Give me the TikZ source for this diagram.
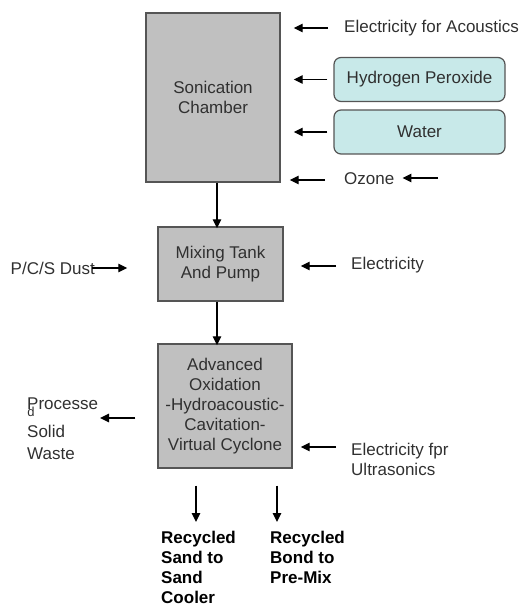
\documentclass[tikz,border=0pt]{standalone}
\usepackage{fontspec}
\setmainfont{Liberation Sans}
\usetikzlibrary{arrows.meta}
\definecolor{boxgray}{HTML}{C0C0C0}
\definecolor{edgegray}{HTML}{555555}
\definecolor{tealfill}{HTML}{C8E9E9}
\definecolor{txt}{HTML}{303030}
\begin{document}
\begin{tikzpicture}[x=1pt,y=-1pt,
  font=\fontsize{17}{20}\selectfont,
  every node/.style={text=txt},
  procbox/.style={draw=edgegray,line width=1.4pt,fill=boxgray,align=center,inner sep=0pt},
  feedbox/.style={draw=edgegray,line width=1.2pt,fill=tealfill,rounded corners=7pt,align=center,
     minimum width=171pt,minimum height=44pt,inner sep=0pt},
  lbl/.style={inner sep=0pt,anchor=west,align=left},
  arr/.style={draw=black,line width=1.3pt,-{Triangle[length=9pt,width=8.5pt]}}]
\useasboundingbox (0,0) rectangle (522,604);
% main boxes
\node[procbox,minimum width=134pt,minimum height=169pt] (sc) at (213,97.5) {Sonication\\Chamber};
\node[procbox,minimum width=125pt,minimum height=74pt] (mix) at (220.5,264) {Mixing Tank\\And Pump};
\node[procbox,minimum width=134pt,minimum height=124pt] (aox) at (225,406)
  {Advanced\\Oxidation\\-Hydroacoustic-\\Cavitation-\\Virtual Cyclone};
% feed boxes and labels
\node[lbl] (ea) at (344,28) {Electricity for Acoustics};
\node[feedbox] (hp) at (419.5,79.5) {Hydrogen Peroxide};
\node[feedbox] (wa) at (419.5,132) {Water};
\node[lbl] (oz) at (344,179) {Ozone};
\coordinate (ozs) at (438,178);
\node[lbl,anchor=east] (dust) at (95,268) {P/C/S Dust};
\node[lbl] (el) at (351,265) {Electricity};
\node[lbl,anchor=north west,font=\fontsize{17}{22}\selectfont] (pw) at (27,398) {Processe\\[6pt]Solid\\Waste};
\node[inner sep=0pt,font=\fontsize{13}{13}\selectfont] (pwd) at (31,412) {d};
\coordinate (pwend) at (100,418);
\node[lbl,anchor=north west] (eu) at (351,443) {Electricity fpr\\Ultrasonics};
\node[lbl,anchor=north west,font=\bfseries\fontsize{17}{20}\selectfont,text=black] (rs) at (161,531)
  {Recycled\\Sand to\\Sand\\Cooler};
\node[lbl,anchor=north west,font=\bfseries\fontsize{17}{20}\selectfont,text=black] (rb) at (270,531)
  {Recycled\\Bond to\\Pre-Mix};
\coordinate (c1) at (196,0);
\coordinate (c2) at (277,0);
% connectors
\draw[arr] ([xshift=4pt]sc.south) -- ([xshift=-3.5pt,yshift=-2pt]mix.north);
\draw[arr] ([xshift=-3.5pt]mix.south) -- ([xshift=-8pt,yshift=-2pt]aox.north);
\draw[arr,shorten <=16pt,shorten >=13pt] (ea.west) -- (ea.west -| sc.east);
\draw[arr,shorten <=6pt,shorten >=13pt] (hp.west) -- (hp.west -| sc.east);
\draw[arr,shorten <=6pt,shorten >=13pt] (wa.west) -- (wa.west -| sc.east);
\draw[arr,shorten <=19pt,shorten >=9pt] ([yshift=-1pt]oz.west) -- ([yshift=-1pt]oz.west -| sc.east);
\draw[arr,shorten >=8pt] (ozs) -- (ozs -| oz.east);
\draw[arr,shorten <=-3pt,shorten >=30pt] (dust.east) -- (dust.east -| mix.west);
\draw[arr,shorten <=15pt,shorten >=17pt] ([yshift=-1pt]el.west) -- ([yshift=-1pt]el.west -| mix.east);
\draw[arr,shorten <=22pt] (aox.west |- pwend) -- (pwend);
\draw[arr,shorten <=15pt,shorten >=8pt] (eu.west |- 0,447) -- (aox.east |- 0,447);
\draw[arr,shorten <=17pt,shorten >=9pt] (aox.south -| c1) -- (c1 |- rs.north);
\draw[arr,shorten <=17pt,shorten >=9pt] (aox.south -| c2) -- (c2 |- rb.north);
\end{tikzpicture}
\end{document}
